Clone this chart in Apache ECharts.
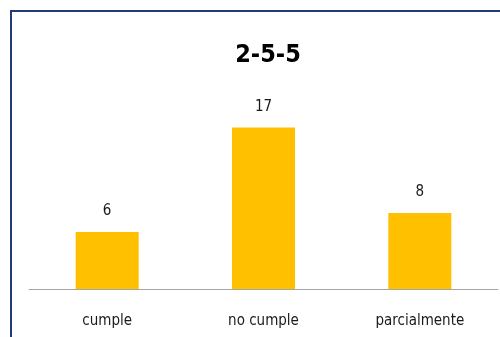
<!DOCTYPE html>
<html><head><meta charset="utf-8">
<script src="https://cdn.jsdelivr.net/npm/echarts@6/dist/echarts.min.js"></script>
<style>html,body{margin:0;padding:0;background:#fff}#c{width:500px;height:337px}</style>
</head><body><div id="c"></div>
<script>
const categories = ['cumple', 'no cumple', 'parcialmente'];
const values = [6, 17, 8];
const titleText = '2-5-5';
const FONT = '"DejaVu Sans Condensed", "Open Sans", sans-serif';
const chart = echarts.init(document.getElementById('c'));
chart.setOption({
  animation: false,
  backgroundColor: '#fff',
  title: {
    text: titleText, left: 263, top: 38, textAlign: 'center',
    textStyle: { fontFamily: FONT, fontWeight: 'bold', fontSize: 25, color: '#000' }
  },
  graphic: [{
    type: 'polyline', silent: true,
    shape: { points: [[11, 337], [11, 11], [500, 11]] },
    style: { stroke: '#1F3C78', lineWidth: 2, fill: null }
  }],
  grid: { left: 29, right: 2, top: 99, bottom: 48 },
  xAxis: {
    type: 'category', data: categories,
    axisLine: { lineStyle: { color: '#A6A6A6', width: 1 } },
    axisTick: { show: false },
    axisLabel: { fontFamily: FONT, fontSize: 15, color: '#1a1a1a', margin: 25 }
  },
  yAxis: { type: 'value', min: 0, max: 20, show: false, splitLine: { show: false } },
  series: [{
    type: 'bar', data: values, barWidth: 63,
    itemStyle: { color: '#FFC000' },
    label: { show: true, position: 'top', distance: 13, fontFamily: FONT, fontSize: 15, color: '#1a1a1a' }
  }]
});
</script></body></html>
